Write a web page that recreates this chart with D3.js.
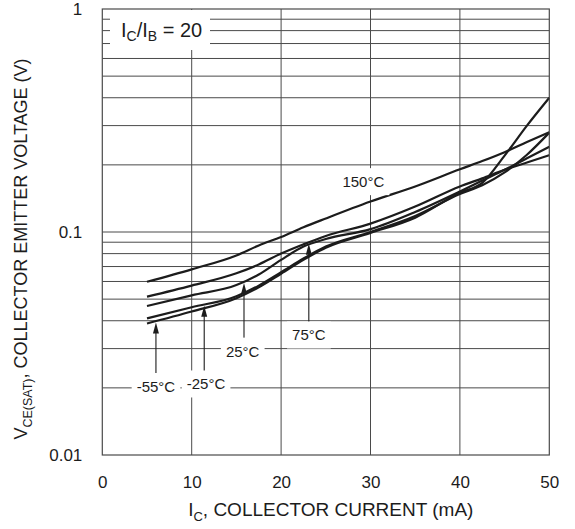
<!DOCTYPE html>
<html><head><meta charset="utf-8">
<script src="https://cdn.jsdelivr.net/npm/d3@7"></script>
<style>
html,body{margin:0;padding:0;background:#fff;}
svg{display:block;font-family:"Liberation Sans",Arial,Helvetica,sans-serif;}
</style></head>
<body>
<script>
// ---- data ----
const xTicks = [0, 10, 20, 30, 40, 50];
const yTickLabels = [0.01, 0.1, 1];
const yGrid = [0.02,0.03,0.04,0.05,0.06,0.07,0.08,0.09,0.1,0.2,0.3,0.4,0.5,0.6,0.7,0.8,0.9];
const xGrid = [10, 20, 30, 40];
const currents = [5, 10, 15, 17.5, 20, 22.5, 25, 30, 35, 40, 42.5, 45, 47.5, 50];
const v150 = [0.0598,0.068,0.0785,0.087,0.095,0.105,0.115,0.137,0.160,0.191,0.208,0.228,0.253,0.280];
const v75  = [0.0513,0.0575,0.0653,0.0715,0.080,0.088,0.096,0.109,0.130,0.160,0.174,0.190,0.205,0.221];
const v25  = [0.0466,0.0520,0.0578,0.0645,0.075,0.086,0.093,0.103,0.123,0.152,0.170,0.190,0.214,0.241];
const vm25 = [0.0410,0.0460,0.0515,0.0575,0.066,0.076,0.086,0.100,0.118,0.148,0.162,0.185,0.222,0.279];
const vm55 = [0.0389,0.0440,0.0505,0.0565,0.065,0.075,0.085,0.099,0.116,0.150,0.166,0.220,0.300,0.400];
const seriesNames = ["150°C","75°C","25°C","-25°C","-55°C"];
const seriesValues = [v150, v75, v25, vm25, vm55];
// annotations (data units)
const labelText = ["150°C","75°C","25°C","-25°C","-55°C"];
const labelX = [29.2, 23.1, 15.7, 11.6, 6.0];
const labelY = [0.168, 0.0345, 0.0292, 0.0208, 0.0202];
const arrowSeries = [1, 2, 3, 4];      // index into seriesValues
const arrowX = [23.1, 15.85, 11.4, 6.0];
const arrowBase = [0.0384, 0.0317, 0.0235, 0.0233];
const ratioLabel = {main:"I", sub1:"C", mid:"/I", sub2:"B", tail:" = 20"};
const xTitle = {main:"I", sub:"C", tail:", COLLECTOR CURRENT (mA)"};
const yTitle = {main:"V", sub:"CE(SAT)", tail:", COLLECTOR EMITTER VOLTAGE (V)"};

// ---- drawing ----
const W = 575, H = 529;
const svg = d3.select("body").append("svg").attr("width", W).attr("height", H);
const x = d3.scaleLinear().domain([0, 50]).range([102.3, 549.3]);
const y = d3.scaleLog().domain([0.01, 1]).range([455, 9]);
const gridCol = "#4a4a4a", ink = "#1c1c1c";

const g = svg.append("g");
// grid
g.selectAll("line.h").data(yGrid).join("line")
  .attr("x1", x(0)).attr("x2", x(50))
  .attr("y1", d => y(d)).attr("y2", d => y(d))
  .attr("stroke", gridCol).attr("stroke-width", 1);
g.selectAll("line.v").data(xGrid).join("line")
  .attr("class","v")
  .attr("x1", d => x(d)).attr("x2", d => x(d))
  .attr("y1", y(1)).attr("y2", y(0.01))
  .attr("stroke", gridCol).attr("stroke-width", 1);

// white box behind ratio label (covers the grid)
svg.append("rect").attr("x", 110).attr("y", 10).attr("width", 100).attr("height", 40).attr("fill", "#fff");

// curves
const line = d3.line().x(d => x(d[0])).y(d => y(d[1])).curve(d3.curveMonotoneX);
svg.append("g").selectAll("path").data(seriesValues).join("path")
  .attr("d", vals => line(currents.map((c, i) => [c, vals[i]])))
  .attr("fill", "none").attr("stroke", ink).attr("stroke-width", 2.2)
  .attr("stroke-linejoin", "round");

// frame
svg.append("rect").attr("x", x(0)).attr("y", y(1))
  .attr("width", x(50) - x(0)).attr("height", y(0.01) - y(1))
  .attr("fill", "none").attr("stroke", gridCol).attr("stroke-width", 1.2);

// axes (tick labels only)
const xAxis = d3.axisBottom(x).tickValues(xTicks).tickSize(0).tickPadding(0).tickFormat(d3.format("d"));
const xa = svg.append("g").attr("transform", `translate(0,${y(0.01) + 21})`).call(xAxis);
xa.select(".domain").remove();
xa.selectAll("text").attr("font-size", 17).attr("fill", ink).attr("font-family", null).attr("dy", "0.71em");
const yAxis = d3.axisLeft(y).tickValues(yTickLabels).tickSize(0).tickPadding(0).tickFormat(d => d3.format("")(d));
const ya = svg.append("g").attr("transform", `translate(${x(0) - 20},0)`).call(yAxis);
ya.select(".domain").remove();
ya.selectAll("text").attr("font-size", 17).attr("fill", ink).attr("font-family", null);

// arrows
function interp(vals, cx) {
  for (let i = 0; i < currents.length - 1; i++) {
    if (cx >= currents[i] && cx <= currents[i + 1]) {
      const t = (cx - currents[i]) / (currents[i + 1] - currents[i]);
      return Math.exp(Math.log(vals[i]) * (1 - t) + Math.log(vals[i + 1]) * t);
    }
  }
  return vals[0];
}
const ag = svg.append("g");
arrowX.forEach((ax, k) => {
  const px = x(ax);
  const tip = y(interp(seriesValues[arrowSeries[k]], ax)) + 1.5;
  const base = y(arrowBase[k]);
  ag.append("line").attr("x1", px).attr("x2", px).attr("y1", base).attr("y2", tip + 8)
    .attr("stroke", ink).attr("stroke-width", 1.1);
  ag.append("path").attr("d", `M${px},${tip} L${px - 3},${tip + 11} L${px + 3},${tip + 11} Z`).attr("fill", ink);
});

// curve labels with white background
const lg = svg.append("g");
labelText.forEach((t, k) => {
  const tx = lg.append("text").attr("x", x(labelX[k])).attr("y", y(labelY[k]))
    .attr("text-anchor", "middle").attr("dy", "0.36em")
    .attr("font-size", 15).attr("fill", ink).text(t);
  const bb = tx.node().getBBox();
  lg.insert("rect", "text").attr("x", bb.x - 5).attr("y", bb.y - 5)
    .attr("width", bb.width + 10).attr("height", bb.height + 10).attr("fill", "#fff");
});

// IC/IB label
const rt = svg.append("text").attr("x", 121).attr("y", 36.5).attr("font-size", 20).attr("fill", ink);
rt.append("tspan").text(ratioLabel.main);
rt.append("tspan").attr("font-size", 14).attr("dy", 4).text(ratioLabel.sub1);
rt.append("tspan").attr("dy", -4).text(ratioLabel.mid);
rt.append("tspan").attr("font-size", 14).attr("dy", 4).text(ratioLabel.sub2);
rt.append("tspan").attr("dy", -4).text(ratioLabel.tail);

// x title
const xt = svg.append("text").attr("x", x(25) + 5).attr("y", 516).attr("text-anchor", "middle")
  .attr("font-size", 19).attr("fill", ink);
xt.append("tspan").text(xTitle.main);
xt.append("tspan").attr("font-size", 13).attr("dy", 5).text(xTitle.sub);
xt.append("tspan").attr("dy", -5).text(xTitle.tail);

// y title
const yt = svg.append("text").attr("transform", `translate(27,${(y(1) + y(0.01)) / 2 + 17}) rotate(-90)`)
  .attr("text-anchor", "middle").attr("font-size", 18).attr("fill", ink);
yt.append("tspan").text(yTitle.main);
yt.append("tspan").attr("font-size", 12.5).attr("dy", 5).text(yTitle.sub);
yt.append("tspan").attr("dy", -5).text(yTitle.tail);
</script>
</body></html>
